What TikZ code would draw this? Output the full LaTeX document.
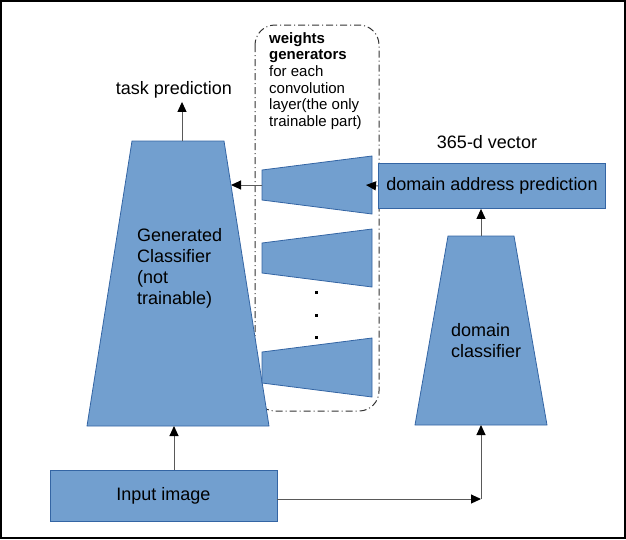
\documentclass[tikz,border=0pt]{standalone}
\usepackage{fontspec}
\setmainfont{Liberation Sans}
\usetikzlibrary{arrows.meta}
\definecolor{boxfill}{HTML}{729FCF}
\definecolor{boxline}{HTML}{3465A4}
\begin{document}
\begin{tikzpicture}[x=1pt,y=-1pt,
  blockfill/.style={fill=boxfill,draw=boxline,line width=0.8pt},
  lbl/.style={font=\fontsize{18}{21}\selectfont},
  arr/.style={-{Triangle[length=10pt,width=9pt,color=black]},line width=1pt,draw=black!65},
  dashdot/.style={draw=black!80,line width=1pt,dash pattern=on 7pt off 3pt on 1pt off 3pt,rounded corners=20pt}]
\useasboundingbox (0,0) rectangle (626,539);
\draw[line width=2pt] (1,1) rectangle (625,538);

% dash-dot container
\draw[dashdot] (255,25) rectangle (379,411);

% generated classifier
\path[blockfill] (132,141) -- (224,141) -- (269,426) -- (87,426) -- cycle;
\node[lbl,anchor=north west,inner sep=0pt,align=left] (gctext) at (137,228) {Generated\\Classifier\\(not\\trainable)};
\coordinate (gctop) at (182,141);
\coordinate (gcbot) at (174,426);
\coordinate (gcright) at (231,185);

% task prediction
\node[lbl] (task) at (174,90) {task prediction};
\draw[arr] (gctop) -- (gctop |- task.south);

% weight generators
\path[blockfill] (262,170) -- (372,156) -- (372,214) -- (262,200) -- cycle;
\path[blockfill] (262,243) -- (372,229) -- (372,287) -- (262,273) -- cycle;
\path[blockfill] (262,352) -- (372,338) -- (372,397) -- (262,383) -- cycle;
\coordinate (g1left) at (262,185);
\coordinate (g1in) at (366,185);
\fill (314.5,290.5) rectangle ++(3,3);
\fill (314.5,313.5) rectangle ++(3,3);
\fill (314.5,335.5) rectangle ++(3,3);

\node[anchor=north west,inner sep=0pt,align=left,font=\fontsize{15}{16.7}\selectfont] (wtext) at (269,32)
  {\textbf{weights}\\\textbf{generators}\\for each\\convolution\\layer(the only\\trainable part)};

\draw[arr] (g1left) -- (gcright);

% domain address prediction
\node[blockfill,lbl,minimum width=227pt,minimum height=45pt,inner sep=0pt] (dap) at (492,186) {domain address prediction};
\node[lbl] (vec) at (487,142) {365-d vector};
\draw[arr] (dap.west) -- (g1in);

% domain classifier
\path[blockfill] (448,236) -- (514,236) -- (547,425) -- (415,425) -- cycle;
\node[lbl,anchor=north west,inner sep=0pt,align=left] (dctext) at (451,323) {domain\\classifier};
\coordinate (dctop) at (481,236);
\coordinate (dcbot) at (481,425);
\draw[arr] (dctop) -- (dctop |- dap.south);

% input image
\node[blockfill,lbl,minimum width=227pt,minimum height=51pt,inner sep=0pt] (inp) at (163.5,496) {Input image};
\coordinate (corner) at (481,499);
\draw[arr] (inp.north -| gcbot) -- (gcbot);
\draw[arr] (inp.east |- corner) -- (corner);
\draw[arr] (corner) -- (dcbot);
\end{tikzpicture}
\end{document}
